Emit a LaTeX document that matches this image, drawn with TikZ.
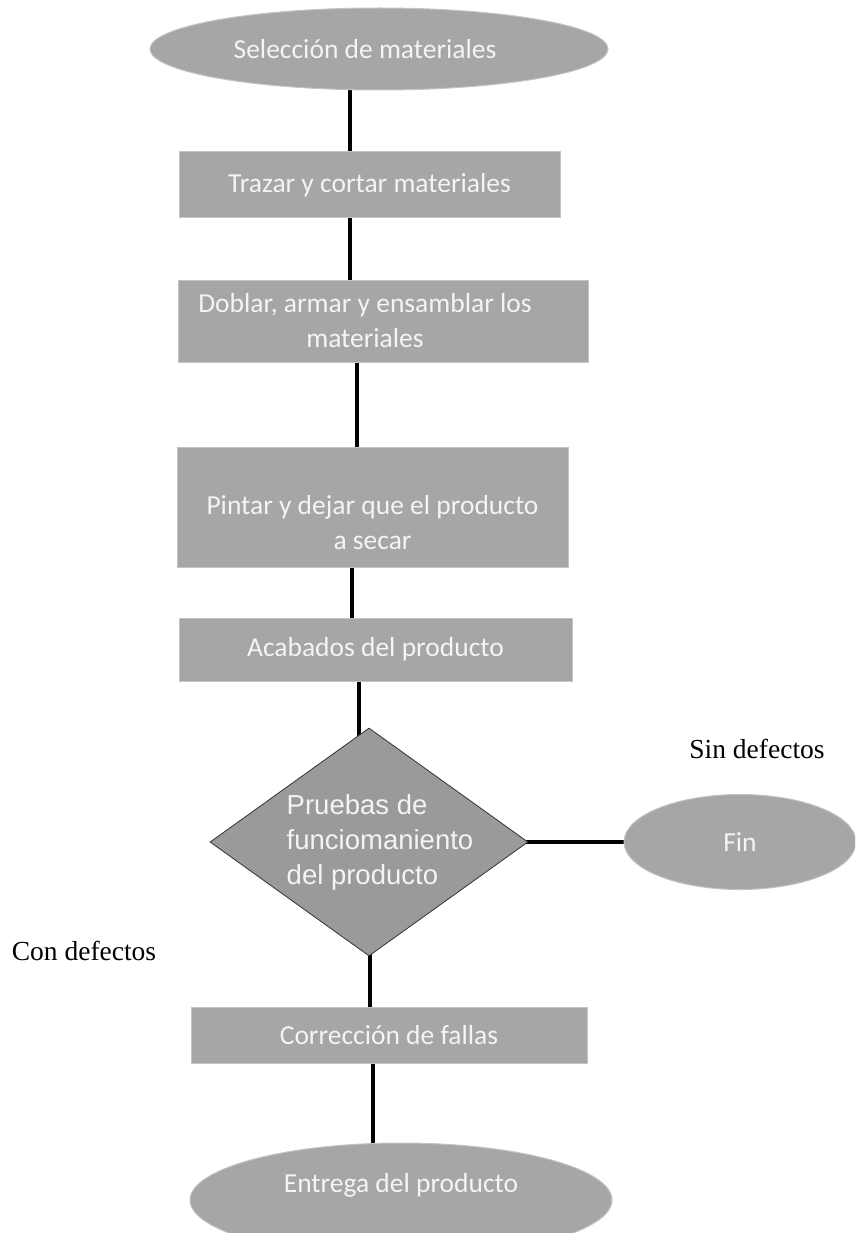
\documentclass[tikz,border=0pt]{standalone}
\usepackage{fontspec}
\setmainfont{Carlito}
\newfontfamily\arialf{Liberation Sans}
\newfontfamily\timesf{Liberation Serif}
\usetikzlibrary{shapes.geometric,backgrounds}
\definecolor{boxfill}{HTML}{A6A6A6}
\definecolor{diafill}{HTML}{9A9A9A}
\definecolor{boxline}{HTML}{C4C4C4}
\definecolor{txt}{HTML}{F4F4F4}
\begin{document}
\begin{tikzpicture}[x=1pt,y=-1pt,
  procbox/.style={rectangle, fill=boxfill, draw=boxline, line width=1pt, text=txt,
    font=\fontsize{27.5}{35}\selectfont, align=center, inner sep=0pt},
  term/.style={ellipse, fill=boxfill, draw=boxline, line width=1pt, text=txt,
    font=\fontsize{27.5}{35}\selectfont, align=center, inner sep=0pt},
  conn/.style={line width=4.5pt, black},
  lbl/.style={font=\timesf\fontsize{27.5}{32}\selectfont, inner sep=0pt}]
\useasboundingbox (0,0) rectangle (855,1233);
\clip (0,0) rectangle (855,1233);

\node[term, minimum width=458, minimum height=82] (sel) at (379,49) {Selección de materiales\hspace*{28pt}};
\node[procbox, minimum width=381, minimum height=66] (trazar) at (369.5,185) {Trazar y cortar materiales};
\node[procbox, minimum width=410, minimum height=82] (doblar) at (383,321) {Doblar, armar y ensamblar los\hspace*{36pt}\\materiales\hspace*{36pt}};
\node[procbox, minimum width=391, minimum height=120] (pintar) at (372.5,507) {\rule{0pt}{50pt}Pintar y dejar que el producto\\a secar};
\node[procbox, minimum width=393, minimum height=63] (acab) at (375.5,649.5) {Acabados del producto};
\node[diamond, shape aspect=1.4, fill=diafill, draw=black!80, line width=0.8pt,
  minimum width=318, minimum height=228, inner sep=-15pt, text=txt,
  font=\arialf\fontsize{27.5}{35}\selectfont, align=left] (prueba) at (369,842)
  {\hspace*{22pt}Pruebas de\\\hspace*{22pt}funciomaniento\\\hspace*{22pt}del producto};
\node[term, minimum width=232, minimum height=95] (fin) at (740,842) {Fin};
\node[lbl] (sin) at (757,749) {Sin defectos};
\node[lbl] (con) at (84,951) {Con defectos};
\node[procbox, minimum width=396, minimum height=56] (corr) at (389,1035) {Corrección de fallas};
\node[term, minimum width=422, minimum height=114] (entrega) at (401,1200) {Entrega del producto\\\mbox{}};

\begin{pgfonlayer}{background}
\draw[conn] (350,0 |- sel.center) -- (350,0 |- trazar.center);
\draw[conn] (350,0 |- trazar.center) -- (350,0 |- doblar.center);
\draw[conn] (357,0 |- doblar.center) -- (357,0 |- pintar.center);
\draw[conn] (352,0 |- pintar.center) -- (352,0 |- acab.center);
\draw[conn] (359,0 |- acab.center) -- (359,0 |- prueba.center);
\draw[conn] (370,0 |- prueba.center) -- (370,0 |- corr.center);
\draw[conn] (373,0 |- corr.center) -- (373,0 |- entrega.center);
\draw[conn] (prueba.center) -- (fin.center);
\end{pgfonlayer}
\end{tikzpicture}
\end{document}
